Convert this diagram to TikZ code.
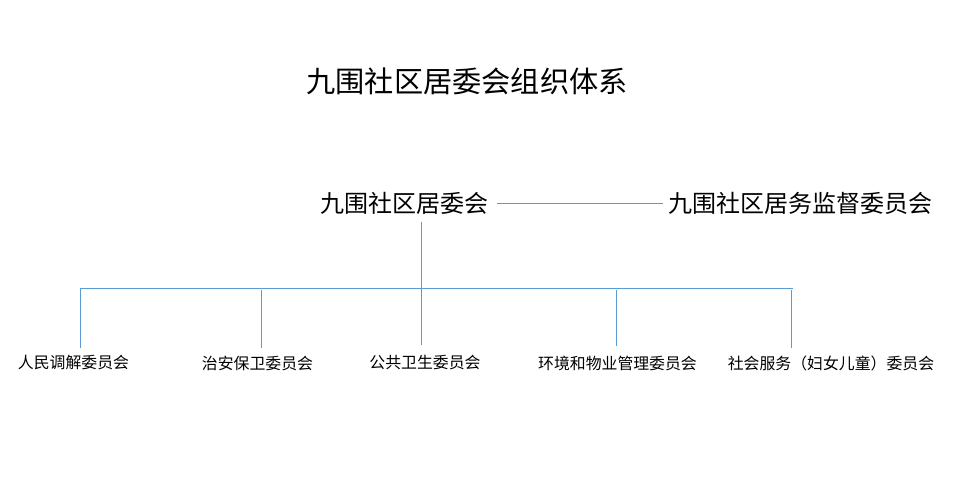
\documentclass[tikz,border=0pt]{standalone}
\usepackage{fontspec}
\newfontfamily\cjk{Noto Sans CJK SC}
\definecolor{lineblue}{HTML}{5B9BD5}
\tikzset{
  link/.style={draw=lineblue, line width=0.75pt},
  title/.style={font=\cjk\fontsize{21.9pt}{24pt}\selectfont, inner sep=0pt},
  head/.style={font=\cjk\fontsize{18pt}{20pt}\selectfont, inner sep=0pt},
  sub/.style={font=\cjk\fontsize{11.9pt}{14pt}\selectfont, inner sep=0pt}
}
\begin{document}
\begin{tikzpicture}[x=0.75pt, y=-0.75pt]
\useasboundingbox (0, 0) rectangle (961, 478);

\node[title] (title) at (467, 81) {九围社区居委会组织体系};

\node[head] (jwh) at (404.5, 203) {九围社区居委会};
\node[head] (jdh) at (800, 203) {九围社区居务监督委员会};

\node[sub] (tj) at (73.5, 363) {人民调解委员会};
\node[sub] (za) at (257.5, 363) {治安保卫委员会};
\node[sub] (ws) at (425, 363) {公共卫生委员会};
\node[sub] (hj) at (617.5, 363) {环境和物业管理委员会};
\node[sub] (fw) at (831, 363) {社会服务（妇女儿童）委员会};

\coordinate (jwl) at (497, 203);
\coordinate (jdl) at (663, 203);
\draw[link] (jwl) -- (jdl);

\coordinate (top) at (421, 222);
\coordinate (bl) at (80, 288);
\coordinate (br) at (793, 288);
\draw[link] (top) -- (421, 345);
\draw[link] (bl) -- (br);

\draw[link] (bl) -- (80, 348);
\draw[link] (261, 290) -- (261, 348);
\draw[link] (616, 290) -- (616, 346);
\draw[link] (791, 290) -- (791, 348);

\end{tikzpicture}
\end{document}
